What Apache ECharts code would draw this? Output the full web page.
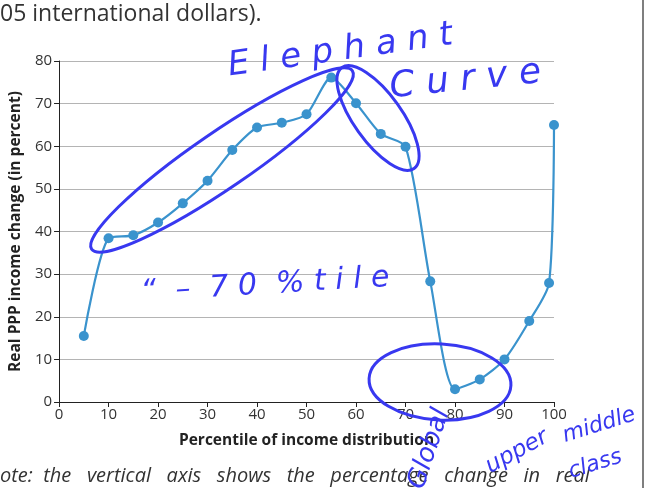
<!DOCTYPE html>
<html>
<head>
<meta charset="utf-8">
<script src="https://cdn.jsdelivr.net/npm/echarts@6/dist/echarts.min.js"></script>
<style>
  html, body { margin: 0; padding: 0; background: #fff; }
  #chart { width: 645px; height: 488px; }
</style>
</head>
<body>
<div id="chart"></div>
<script>
// percentile of income distribution
var percentiles = [5, 10, 15, 20, 25, 30, 35, 40, 45, 50, 55, 60, 65, 70, 75, 80, 85, 90, 95, 99, 100]
// real PPP income change (in percent)
var incomeChange = [15.5, 38.4, 39.1, 42.1, 46.6, 51.9, 59.1, 64.4, 65.5, 67.5, 76.1, 70.1, 62.9, 59.9, 28.3, 3.0, 5.3, 10.0, 19.0, 27.9, 65.0]
var xTicks = [0, 10, 20, 30, 40, 50, 60, 70, 80, 90, 100]
var yTicks = [0, 10, 20, 30, 40, 50, 60, 70, 80]

var ink = '#3838f0'
var hand = { fill: ink, fontFamily: 'DejaVu Sans', fontStyle: 'italic' }
function note(text, x, y, rot, size) {
  return { type: 'text', x: x, y: y, rotation: rot, z: 10, style: Object.assign({ text: text, fontSize: size }, hand) }
}
function loop(x, y, rot, rx, ry) {
  return { type: 'ellipse', x: x, y: y, rotation: rot, z: 10, shape: { cx: 0, cy: 0, rx: rx, ry: ry }, style: { fill: 'none', stroke: ink, lineWidth: 3 } }
}

var chart = echarts.init(document.getElementById('chart'))
chart.setOption({
  animation: false,
  textStyle: { fontFamily: '"Open Sans", sans-serif' },
  grid: { left: 59, right: 91, top: 61, bottom: 86 },
  xAxis: {
    type: 'value',
    min: xTicks[0],
    max: xTicks[xTicks.length - 1],
    interval: 10,
    name: 'Percentile of income distribution',
    nameLocation: 'middle',
    nameGap: 31,
    nameTextStyle: { fontSize: 15.5, fontWeight: 'bold', color: '#222' },
    axisLine: { show: true, lineStyle: { color: '#222', width: 1 } },
    axisTick: { show: true, length: 5, lineStyle: { color: '#222' } },
    axisLabel: { fontSize: 15, color: '#333', margin: 5 },
    splitLine: { show: false }
  },
  yAxis: {
    type: 'value',
    min: yTicks[0],
    max: yTicks[yTicks.length - 1],
    interval: 10,
    name: 'Real PPP income change (in percent)',
    nameLocation: 'middle',
    nameGap: 35,
    nameTextStyle: { fontSize: 15.5, fontWeight: 'bold', color: '#222' },
    axisLine: { show: true, lineStyle: { color: '#222', width: 1 } },
    axisTick: { show: true, length: 5, lineStyle: { color: '#222' } },
    axisLabel: { fontSize: 15, color: '#333', margin: 7 },
    splitLine: { show: true, lineStyle: { color: '#b4b4b4', width: 1.2 } }
  },
  series: [
    {
      type: 'line',
      data: percentiles.map(function(p, i) { return [p, incomeChange[i]] }),
      smooth: 0.25,
      symbol: 'circle',
      symbolSize: 10,
      lineStyle: { color: '#3a93cd', width: 2.2 },
      itemStyle: { color: '#3a93cd' },
      z: 3
    }
  ],
  graphic: [
    // surrounding page text
    { type: 'text', left: 0, top: 3, style: { text: '05 international dollars).', fontSize: 23, fill: '#333', fontFamily: '"Open Sans", sans-serif' } },
    { type: 'text', left: 0, top: 466, style: { text: 'ote:  the   vertical   axis   shows   the   percentage   change   in   real', fontSize: 20, fill: '#333', fontStyle: 'italic', fontFamily: '"Open Sans", sans-serif' } },
    { type: 'line', shape: { x1: 643, y1: 0, x2: 643, y2: 488 }, style: { stroke: '#555', lineWidth: 1.5 } },
    // handwritten annotations
    note('E l e p h a n t', 226, 50, 0.14, 34),
    note('C u r v e', 388, 70, 0.1, 36),
    note('\u201c  \u2013  7 0  % t i l e', 140, 278, 0.06, 30),
    note('Global', 404, 484, 1.25, 26),
    note('upper', 482, 458, 0.5, 23),
    note('middle', 560, 426, 0.3, 22),
    note('class', 566, 462, 0.3, 22),
    loop(222, 160, 0.6, 158, 28),
    loop(378, 118, -0.95, 62, 24),
    loop(440, 382, -0.05, 71, 38)
  ]
})
</script>
</body>
</html>
